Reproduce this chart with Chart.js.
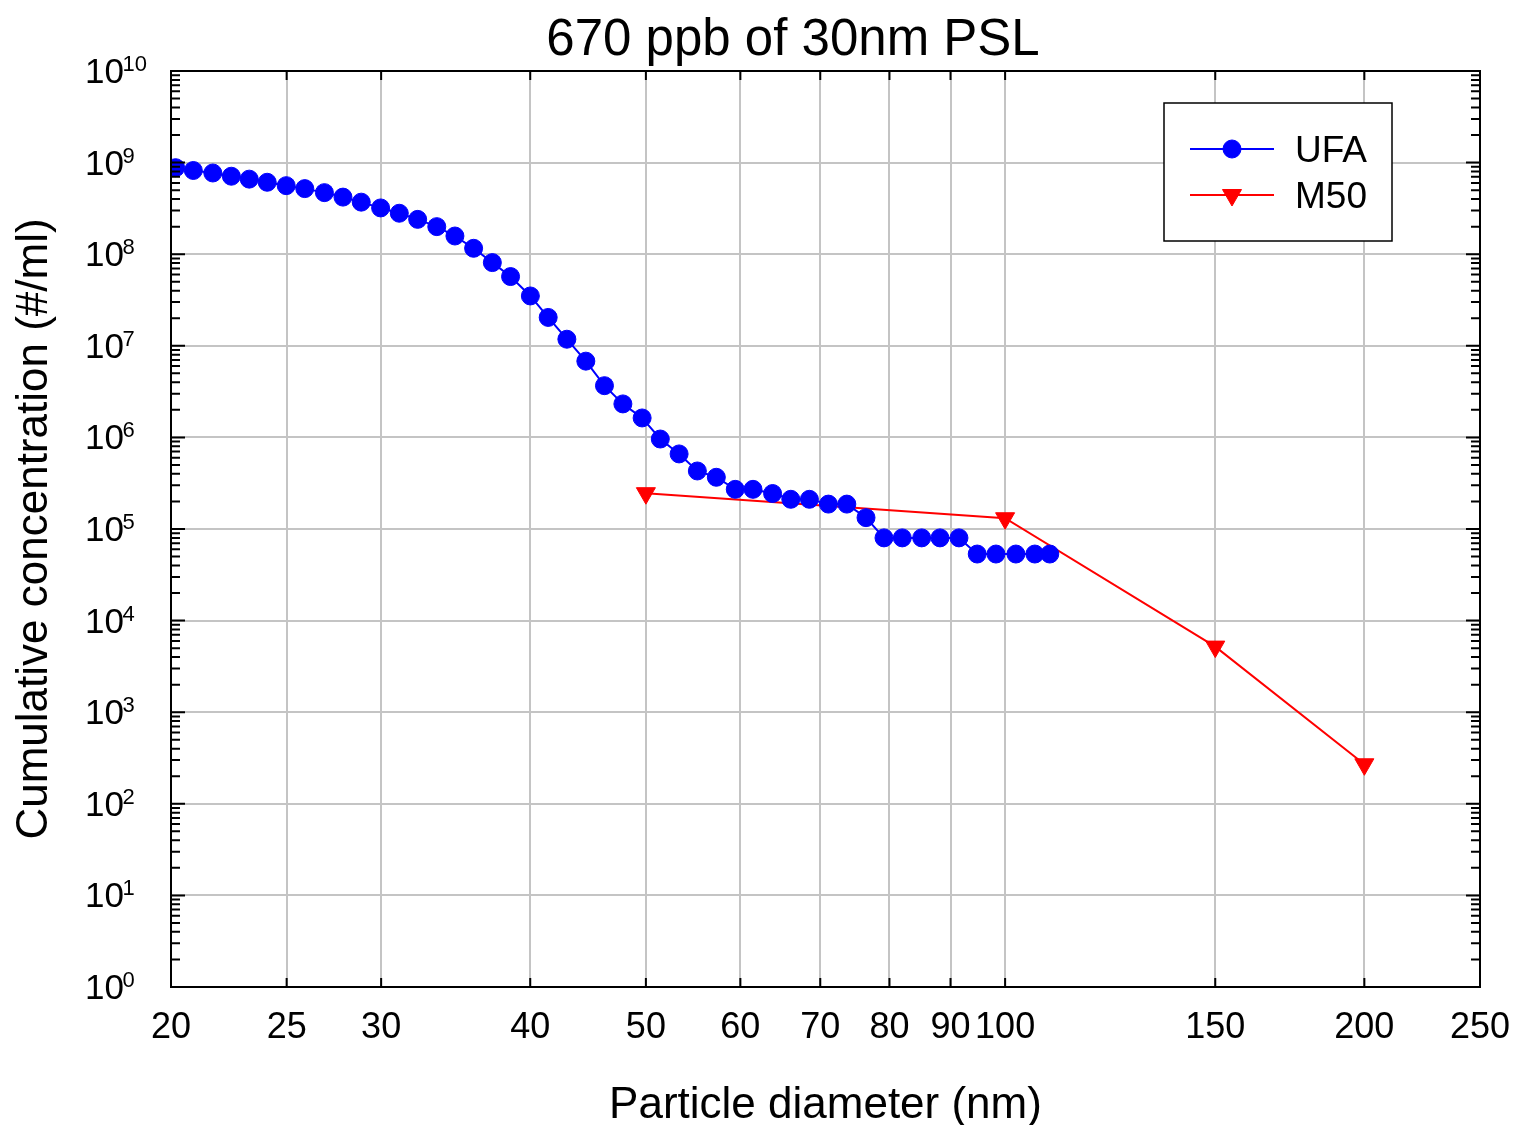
<!DOCTYPE html>
<html>
<head>
<meta charset="utf-8">
<script src="https://cdn.jsdelivr.net/npm/chart.js@4/dist/chart.umd.min.js"></script>
<style>
  body { margin: 0; background: #fff; }
  canvas { display: block; }
</style>
</head>
<body>
<canvas id="grafico" width="1513" height="1125"></canvas>
<script>
// values
const ufaDiameter = [20.18, 20.88, 21.68, 22.47, 23.26, 24.08, 24.98, 25.89, 26.89, 27.87,
  28.87, 29.97, 31.07, 32.19, 33.40, 34.59, 35.86, 37.18, 38.51, 40.01,
  41.41, 42.93, 44.53, 46.16, 47.83, 49.64, 51.41, 53.31, 55.22, 57.28,
  59.41, 61.48, 63.85, 66.13, 68.55, 71.11, 73.68, 76.46, 79.16, 82.0,
  85.13, 88.19, 91.48, 94.76, 98.25, 102.1, 105.9, 109.0];
const ufaConc = [8.8e8, 8.2e8, 7.7e8, 7.1e8, 6.6e8, 6.1e8, 5.6e8, 5.2e8, 4.7e8, 4.2e8,
  3.7e8, 3.2e8, 2.8e8, 2.4e8, 2.0e8, 1.58e8, 1.16e8, 8.1e7, 5.7e7, 3.5e7,
  2.04e7, 1.18e7, 6.8e6, 3.67e6, 2.32e6, 1.63e6, 9.6e5, 6.6e5, 4.3e5, 3.67e5,
  2.71e5, 2.71e5, 2.44e5, 2.11e5, 2.11e5, 1.87e5, 1.87e5, 1.33e5, 8.0e4, 8.0e4,
  8.0e4, 8.0e4, 8.0e4, 5.33e4, 5.33e4, 5.33e4, 5.33e4, 5.33e4];
const m50Diameter = [50, 100, 150, 200];
const m50Conc = [2.46e5, 1.31e5, 5.2e3, 270];
const xTickValues = [20, 25, 30, 40, 50, 60, 70, 80, 90, 100, 150, 200, 250];
const yExponents = [0, 1, 2, 3, 4, 5, 6, 7, 8, 9, 10];

const fonte = '"Liberation Sans", Arial, sans-serif';

function pares(xs, ys) {
  const out = [];
  for (let i = 0; i < xs.length; i++) out.push({ x: xs[i], y: ys[i] });
  return out;
}

function drawMarker(ctx, ds, x, y) {
  ctx.save();
  ctx.fillStyle = ds.pointBackgroundColor;
  ctx.strokeStyle = ds.pointBorderColor;
  ctx.lineWidth = 1;
  Chart.helpers.drawPoint(ctx, {
    pointStyle: ds.pointStyle,
    rotation: ds.pointRotation || 0,
    radius: ds.pointRadius,
    borderWidth: 1
  }, x, y);
  ctx.restore();
}

// ticks, labels, box, titles and legend drawn on top
const extras = {
  id: "extras",
  afterDraw(chart) {
    const ctx = chart.ctx;
    const area = chart.chartArea;
    const sx = chart.scales.x;
    const sy = chart.scales.y;
    ctx.save();
    ctx.strokeStyle = "#000";
    ctx.fillStyle = "#000";
    ctx.lineWidth = 2;

    // box
    ctx.strokeRect(area.left, area.top, area.right - area.left, area.bottom - area.top);

    // y ticks, major + minor, both sides
    ctx.beginPath();
    yExponents.forEach((e) => {
      const yp = sy.getPixelForValue(Math.pow(10, e));
      ctx.moveTo(area.left, yp); ctx.lineTo(area.left + 14, yp);
      ctx.moveTo(area.right, yp); ctx.lineTo(area.right - 14, yp);
      if (e < 10) {
        for (let k = 2; k <= 9; k++) {
          const ym = sy.getPixelForValue(k * Math.pow(10, e));
          ctx.moveTo(area.left, ym); ctx.lineTo(area.left + 9, ym);
          ctx.moveTo(area.right, ym); ctx.lineTo(area.right - 9, ym);
        }
      }
    });
    // x ticks top and bottom
    xTickValues.forEach((v) => {
      const xp = sx.getPixelForValue(v);
      ctx.moveTo(xp, area.bottom); ctx.lineTo(xp, area.bottom - 9);
      ctx.moveTo(xp, area.top); ctx.lineTo(xp, area.top + 9);
    });
    ctx.stroke();

    // x tick labels
    ctx.font = "36px " + fonte;
    ctx.textAlign = "center";
    ctx.textBaseline = "alphabetic";
    xTickValues.forEach((v) => {
      ctx.fillText(String(v), sx.getPixelForValue(v), 1038);
    });

    // y tick labels 10^n
    ctx.textAlign = "left";
    yExponents.forEach((e) => {
      const yp = sy.getPixelForValue(Math.pow(10, e));
      ctx.font = "35px " + fonte;
      ctx.fillText("10", 85, yp + 12);
      const w = ctx.measureText("10").width;
      ctx.font = "22px " + fonte;
      ctx.fillText(String(e), 85 + w - 1.5, yp);
    });

    // title
    ctx.textAlign = "center";
    ctx.font = "51px " + fonte;
    ctx.fillText("670 ppb of 30nm PSL", 793, 55);

    // axis titles
    ctx.font = "44px " + fonte;
    ctx.fillText("Particle diameter (nm)", (area.left + area.right) / 2, 1118);
    ctx.save();
    ctx.translate(47, (area.top + area.bottom) / 2);
    ctx.rotate(-Math.PI / 2);
    ctx.fillText("Cumulative concentration (#/ml)", 0, 0);
    ctx.restore();

    // legend
    ctx.fillStyle = "#fff";
    ctx.fillRect(1164, 103, 228, 138);
    ctx.lineWidth = 1.5;
    ctx.strokeStyle = "#000";
    ctx.strokeRect(1164, 103, 228, 138);
    const linhas = [149, 195];
    chart.data.datasets.forEach((ds, i) => {
      const y = linhas[i];
      ctx.strokeStyle = ds.borderColor;
      ctx.lineWidth = 2;
      ctx.beginPath();
      ctx.moveTo(1190, y); ctx.lineTo(1274, y);
      ctx.stroke();
      drawMarker(ctx, ds, 1232, y);
      ctx.fillStyle = "#000";
      ctx.font = "37px " + fonte;
      ctx.textAlign = "left";
      ctx.fillText(ds.label, 1295, y + 13);
    });
    ctx.restore();
  }
};

function montarGrafico() {
  const tela = document.getElementById("grafico").getContext("2d");

  new Chart(tela, {
    type: "scatter",
    data: {
      datasets: [
        {
          label: "UFA",
          data: pares(ufaDiameter, ufaConc),
          showLine: true,
          borderColor: "#0000ff",
          borderWidth: 2,
          pointStyle: "circle",
          pointRadius: 9,
          pointBackgroundColor: "#0000ff",
          pointBorderColor: "#0000ff",
          pointBorderWidth: 1
        },
        {
          label: "M50",
          data: pares(m50Diameter, m50Conc),
          showLine: true,
          borderColor: "#ff0000",
          borderWidth: 2,
          pointStyle: "triangle",
          pointRotation: 180,
          pointRadius: 11,
          pointBackgroundColor: "#ff0000",
          pointBorderColor: "#ff0000",
          pointBorderWidth: 1
        }
      ]
    },
    options: {
      responsive: false,
      animation: false,
      events: [],
      layout: { padding: { left: 171, top: 71, right: 33, bottom: 138 } },
      plugins: {
        legend: { display: false },
        title: { display: false },
        tooltip: { enabled: false }
      },
      scales: {
        x: {
          type: "logarithmic",
          min: 20,
          max: 250,
          afterBuildTicks: (s) => { s.ticks = xTickValues.map((v) => ({ value: v })); },
          ticks: { display: false },
          grid: { color: "#c4c4c4", lineWidth: 2, drawTicks: false },
          border: { display: false }
        },
        y: {
          type: "logarithmic",
          min: 1,
          max: 1e10,
          afterBuildTicks: (s) => { s.ticks = yExponents.map((e) => ({ value: Math.pow(10, e) })); },
          ticks: { display: false },
          grid: { color: "#c4c4c4", lineWidth: 2, drawTicks: false },
          border: { display: false }
        }
      }
    },
    plugins: [extras]
  });
}

document.addEventListener("DOMContentLoaded", montarGrafico);
</script>
</body>
</html>
